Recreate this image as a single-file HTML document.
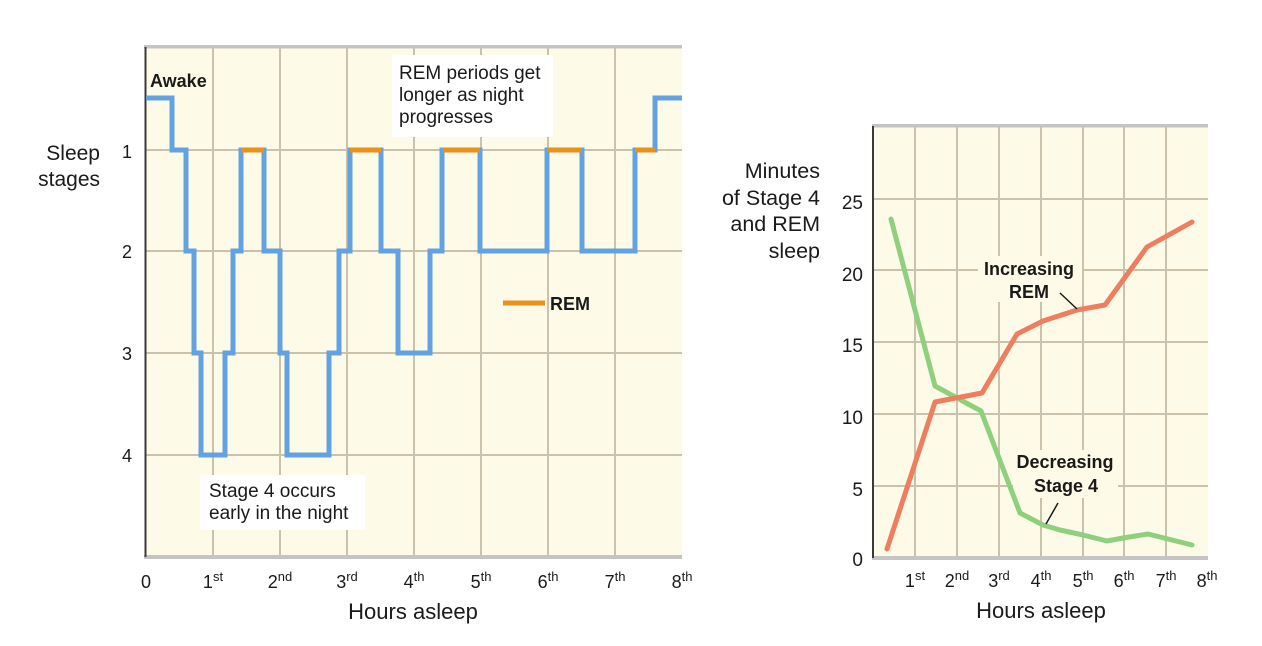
<!DOCTYPE html>
<html>
<head>
<meta charset="utf-8">
<style>
html,body{margin:0;padding:0;background:#fff;}
svg{display:block;}
text{font-family:"Liberation Sans",sans-serif;fill:#1a1a1a;}
.b{font-weight:bold;}
</style>
</head>
<body>
<svg width="1262" height="646" viewBox="0 0 1262 646" xmlns="http://www.w3.org/2000/svg">
<rect x="0" y="0" width="1262" height="646" fill="#ffffff"/>

<!-- LEFT CHART -->
<rect x="146" y="48" width="536" height="508" fill="#fdfbe7"/>
<g stroke="#cbc2ab" stroke-width="2">
  <line x1="213" y1="48" x2="213" y2="556"/>
  <line x1="280" y1="48" x2="280" y2="556"/>
  <line x1="347" y1="48" x2="347" y2="556"/>
  <line x1="414" y1="48" x2="414" y2="556"/>
  <line x1="481" y1="48" x2="481" y2="556"/>
  <line x1="548" y1="48" x2="548" y2="556"/>
  <line x1="615" y1="48" x2="615" y2="556"/>
  <line x1="146" y1="150" x2="682" y2="150"/>
  <line x1="146" y1="251" x2="682" y2="251"/>
  <line x1="146" y1="353" x2="682" y2="353"/>
  <line x1="146" y1="455" x2="682" y2="455"/>
</g>
<rect x="144" y="45" width="538" height="3.5" fill="#c4c4c4"/>
<rect x="144" y="555" width="538" height="4" fill="#c4c4c4"/>
<line x1="145.5" y1="47" x2="145.5" y2="557" stroke="#3a3a3a" stroke-width="2"/>

<!-- annotation boxes -->
<rect x="392" y="55" width="161" height="82" fill="#ffffff"/>
<rect x="200" y="475" width="165" height="55" fill="#ffffff"/>

<!-- step line -->
<path d="M146,98 H172 V150 H186 V251 H194 V353 H201 V455 H225 V353 H233 V251 H241 V150 H264 V251 H280 V353 H287 V455 H329 V353 H339 V251 H350 V150 H381 V251 H398 V353 H430 V251 H442 V150 H480 V251 H547 V150 H582 V251 H635 V150 H655 V98 H682" fill="none" stroke="#62a2e2" stroke-width="5" stroke-linejoin="miter"/>
<g stroke="#e8921c" stroke-width="5">
  <line x1="241" y1="150" x2="264" y2="150"/>
  <line x1="350" y1="150" x2="381" y2="150"/>
  <line x1="443" y1="150" x2="480" y2="150"/>
  <line x1="547" y1="150" x2="582" y2="150"/>
  <line x1="635" y1="150" x2="655" y2="150"/>
  <line x1="503" y1="303" x2="545" y2="303"/>
</g>

<text x="150" y="87" font-size="18" class="b">Awake</text>
<text x="550" y="310" font-size="18" class="b">REM</text>

<text x="399" y="79" font-size="19">REM periods get</text>
<text x="399" y="101" font-size="19">longer as night</text>
<text x="399" y="123" font-size="19">progresses</text>

<text x="209" y="497" font-size="19">Stage 4 occurs</text>
<text x="209" y="519" font-size="19">early in the night</text>

<text x="100" y="160" font-size="21" text-anchor="end">Sleep</text>
<text x="100" y="186" font-size="21" text-anchor="end">stages</text>

<g font-size="18" text-anchor="middle">
  <text x="127" y="158">1</text>
  <text x="127" y="258">2</text>
  <text x="127" y="360">3</text>
  <text x="127" y="462">4</text>
</g>

<g font-size="18" text-anchor="middle">
  <text x="146" y="588">0</text>
  <text x="213" y="588">1<tspan font-size="13" dy="-7">st</tspan></text>
  <text x="280" y="588">2<tspan font-size="13" dy="-7">nd</tspan></text>
  <text x="347" y="588">3<tspan font-size="13" dy="-7">rd</tspan></text>
  <text x="414" y="588">4<tspan font-size="13" dy="-7">th</tspan></text>
  <text x="481" y="588">5<tspan font-size="13" dy="-7">th</tspan></text>
  <text x="548" y="588">6<tspan font-size="13" dy="-7">th</tspan></text>
  <text x="615" y="588">7<tspan font-size="13" dy="-7">th</tspan></text>
  <text x="682" y="588">8<tspan font-size="13" dy="-7">th</tspan></text>
</g>
<text x="413" y="619" font-size="22" text-anchor="middle">Hours asleep</text>

<!-- RIGHT CHART -->
<rect x="873" y="127" width="335" height="430" fill="#fdfbe7"/>
<g stroke="#cbc2ab" stroke-width="2">
  <line x1="915" y1="127" x2="915" y2="557"/>
  <line x1="957" y1="127" x2="957" y2="557"/>
  <line x1="999" y1="127" x2="999" y2="557"/>
  <line x1="1041" y1="127" x2="1041" y2="557"/>
  <line x1="1083" y1="127" x2="1083" y2="557"/>
  <line x1="1124" y1="127" x2="1124" y2="557"/>
  <line x1="1166" y1="127" x2="1166" y2="557"/>
  <line x1="873" y1="199" x2="1208" y2="199"/>
  <line x1="873" y1="270" x2="1208" y2="270"/>
  <line x1="873" y1="342" x2="1208" y2="342"/>
  <line x1="873" y1="414" x2="1208" y2="414"/>
  <line x1="873" y1="486" x2="1208" y2="486"/>
</g>
<rect x="872" y="124" width="336" height="3.5" fill="#c4c4c4"/>
<rect x="872" y="556" width="336" height="4" fill="#c4c4c4"/>
<line x1="873" y1="126" x2="873" y2="558" stroke="#3a3a3a" stroke-width="2"/>

<!-- text mask boxes -->
<rect x="978" y="256" width="104" height="46" fill="#fdfbe7"/>
<rect x="1013" y="450" width="105" height="48" fill="#fdfbe7"/>

<path d="M891,219 L935,386 L981,411 L1020,513 L1043,525 L1060,530 L1083,535 L1107,541 L1123,538 L1148,534 L1192,545" fill="none" stroke="#8fd07c" stroke-width="5" stroke-linejoin="round" stroke-linecap="round"/>
<path d="M887,549 L935,402 L982,393 L1017,334 L1043,321 L1077,310 L1105,305 L1147,247 L1192,222" fill="none" stroke="#ef7d5f" stroke-width="5" stroke-linejoin="round" stroke-linecap="round"/>

<g stroke="#1a1a1a" stroke-width="1.5">
  <line x1="1060" y1="293" x2="1077" y2="309"/>
  <line x1="1058" y1="503" x2="1046" y2="524"/>
</g>

<g font-size="18" class="b" text-anchor="middle">
  <text x="1029" y="275">Increasing</text>
  <text x="1029" y="298">REM</text>
  <text x="1065" y="468">Decreasing</text>
  <text x="1066" y="492">Stage 4</text>
</g>

<g font-size="21.5" text-anchor="end">
  <text x="820" y="178">Minutes</text>
  <text x="820" y="205">of Stage 4</text>
  <text x="820" y="231">and REM</text>
  <text x="820" y="258">sleep</text>
</g>

<g font-size="19" text-anchor="end">
  <text x="863" y="209">25</text>
  <text x="863" y="281">20</text>
  <text x="863" y="352">15</text>
  <text x="863" y="424">10</text>
  <text x="863" y="496">5</text>
  <text x="863" y="566">0</text>
</g>

<g font-size="18" text-anchor="middle">
  <text x="915" y="587">1<tspan font-size="13" dy="-7">st</tspan></text>
  <text x="957" y="587">2<tspan font-size="13" dy="-7">nd</tspan></text>
  <text x="999" y="587">3<tspan font-size="13" dy="-7">rd</tspan></text>
  <text x="1041" y="587">4<tspan font-size="13" dy="-7">th</tspan></text>
  <text x="1083" y="587">5<tspan font-size="13" dy="-7">th</tspan></text>
  <text x="1124" y="587">6<tspan font-size="13" dy="-7">th</tspan></text>
  <text x="1166" y="587">7<tspan font-size="13" dy="-7">th</tspan></text>
  <text x="1207" y="587">8<tspan font-size="13" dy="-7">th</tspan></text>
</g>
<text x="1041" y="618" font-size="22" text-anchor="middle">Hours asleep</text>
</svg>
</body>
</html>
